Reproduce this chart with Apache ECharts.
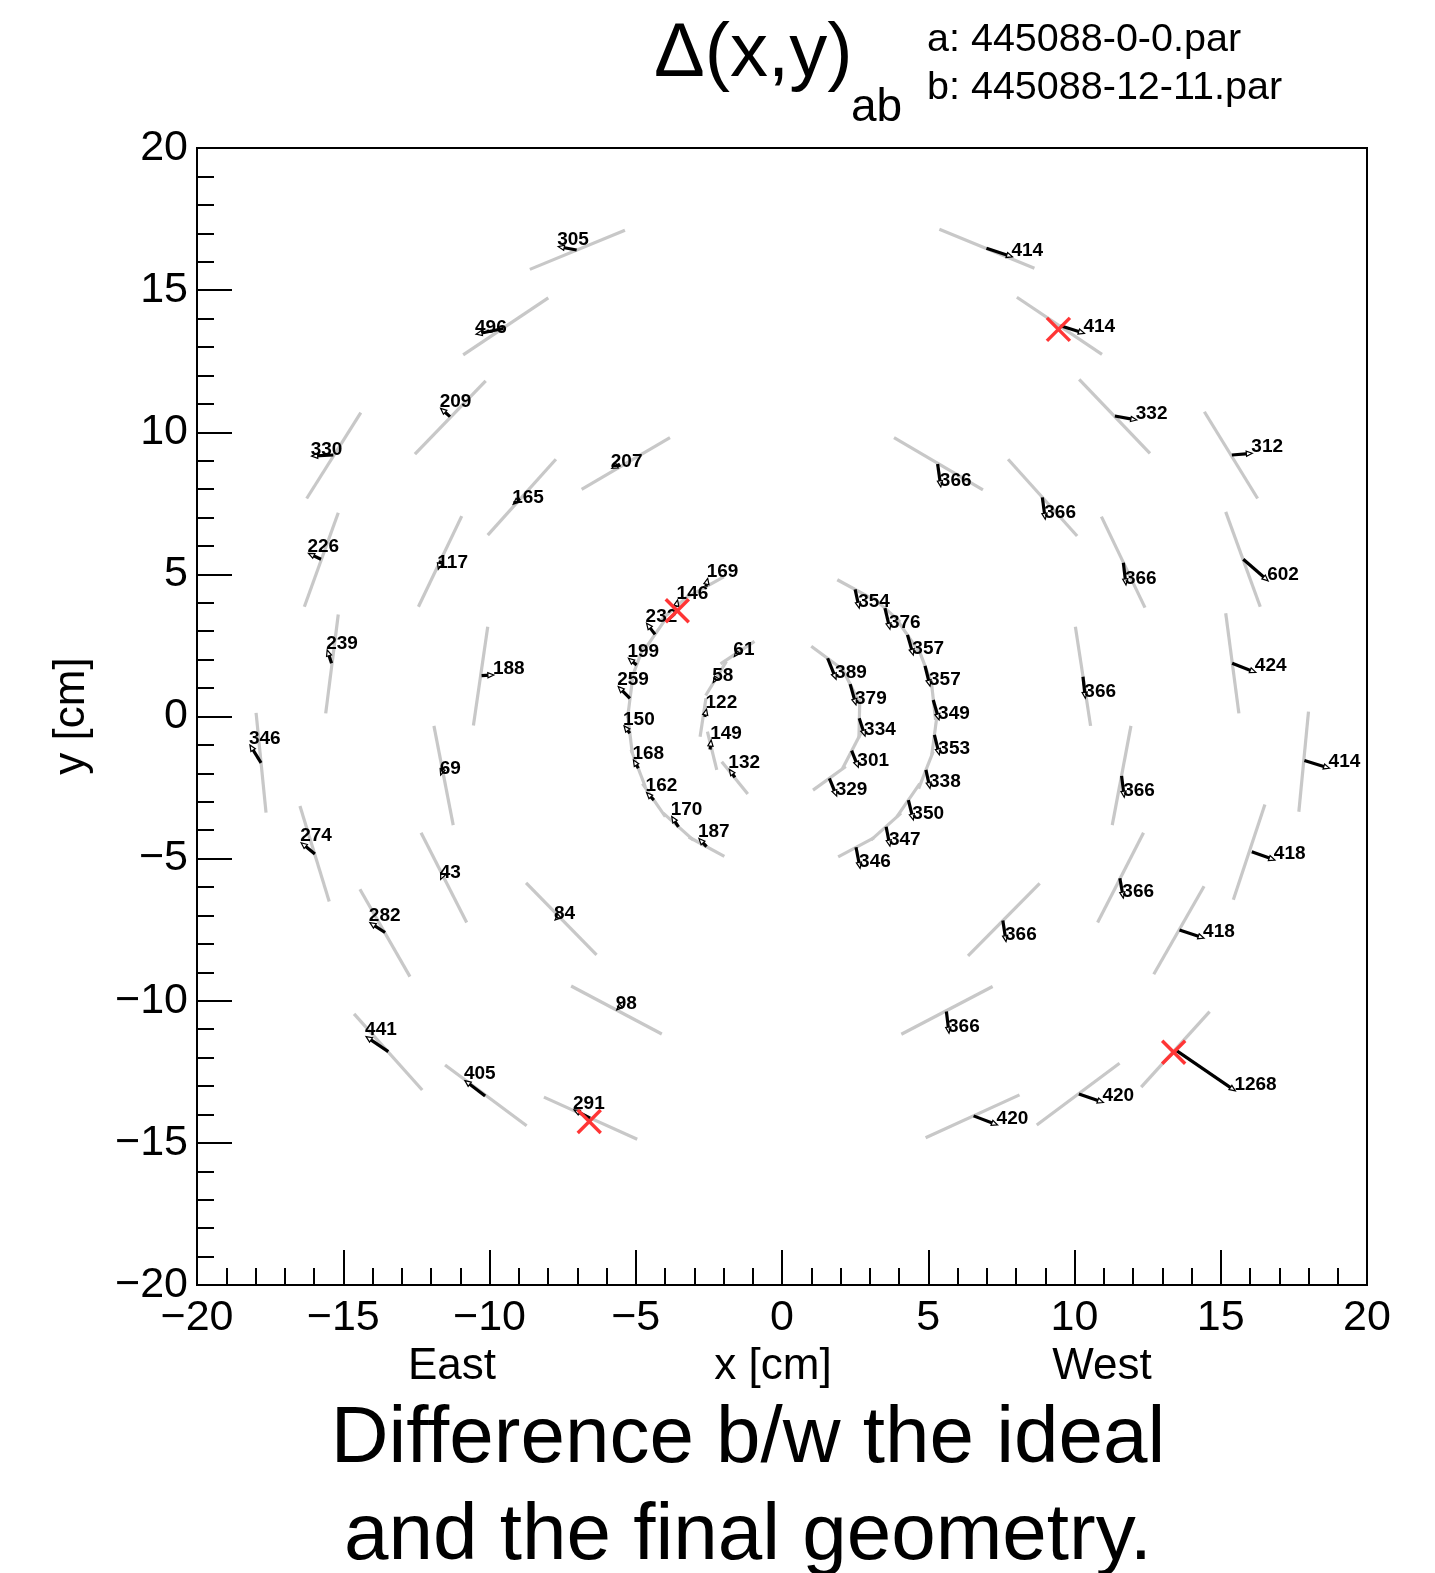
<!DOCTYPE html>
<html>
<head>
<meta charset="utf-8">
<script src="https://cdn.jsdelivr.net/npm/echarts@6/dist/echarts.min.js"></script>
<style>
  html, body { margin: 0; padding: 0; background: #ffffff; }
  #chart { width: 1435px; height: 1573px; }
</style>
</head>
<body>
<div id="chart"></div>
<script>
// Chamber segments in the x-y plane, [x1, y1, x2, y2] in cm
const segments = [
  [-8.62, 15.73, -5.37, 17.11], [-10.90, 12.72, -7.99, 14.73], [-12.55, 9.23, -10.13, 11.81],
  [-16.25, 7.67, -14.40, 10.69], [-10.06, 6.38, -7.73, 9.05], [-6.85, 7.99, -3.83, 9.81],
  [-15.17, 7.17, -16.33, 3.86], [-10.95, 7.05, -12.43, 3.86], [-15.17, 3.59, -15.60, 0.11],
  [-10.06, 3.16, -10.55, -0.32], [-17.98, 0.13, -17.64, -3.38], [-11.90, -0.33, -11.24, -3.82],
  [-16.48, -3.15, -15.48, -6.51], [-12.34, -4.09, -10.78, -7.25], [-14.43, -6.08, -12.72, -9.15],
  [-8.75, -5.85, -6.34, -8.39], [-7.21, -9.48, -4.11, -11.17], [-14.63, -10.46, -12.30, -13.14],
  [-11.52, -12.26, -8.73, -14.40], [-8.14, -13.39, -4.95, -14.87],
  [5.38, 17.14, 8.63, 15.77], [8.03, 14.75, 10.94, 12.74], [10.16, 11.86, 12.58, 9.26],
  [14.44, 10.72, 16.26, 7.67], [3.83, 9.81, 6.87, 7.97], [7.73, 9.05, 10.09, 6.35],
  [10.92, 7.03, 12.41, 3.83], [15.17, 7.20, 16.35, 3.86], [15.17, 3.63, 15.62, 0.11],
  [10.03, 3.16, 10.55, -0.33], [18.00, 0.17, 17.67, -3.35], [11.93, -0.33, 11.29, -3.82],
  [16.51, -3.10, 15.43, -6.45], [12.36, -4.09, 10.79, -7.25], [14.43, -5.97, 12.71, -9.07],
  [8.81, -5.87, 6.36, -8.42], [7.20, -9.50, 4.08, -11.18], [14.62, -10.38, 12.28, -13.04],
  [11.54, -12.20, 8.71, -14.37], [8.12, -13.31, 4.91, -14.82],
  [-3.21, 4.22, -1.99, 4.91], [-4.14, 3.38, -3.11, 4.34], [-4.73, 2.31, -3.95, 3.47],
  [-5.21, 1.15, -4.73, 2.47], [-5.28, -0.06, -5.11, 1.33], [-5.12, -1.29, -5.28, 0.10],
  [-4.67, -2.48, -5.16, -1.17], [-3.99, -3.52, -4.77, -2.36], [-3.03, -4.35, -4.06, -3.40],
  [-1.97, -4.92, -3.19, -4.24],
  [-0.94, 2.64, -2.10, 1.85], [-1.90, 1.94, -2.61, 0.74], [-2.80, -0.71, -2.60, 0.64],
  [-2.55, -0.53, -2.23, -1.88], [-2.06, -1.59, -1.17, -2.73],
  [1.00, 2.47, 2.12, 1.62], [2.02, 1.77, 2.63, 0.52], [2.66, 0.64, 2.63, -0.76],
  [2.70, -0.58, 2.07, -1.83], [2.18, -1.76, 1.06, -2.59],
  [1.89, 4.81, 3.11, 4.13], [3.01, 4.28, 4.04, 3.33], [3.90, 3.45, 4.67, 2.29],
  [4.65, 2.43, 5.13, 1.12], [5.10, 1.28, 5.25, -0.12], [5.30, 0.04, 5.12, -1.35],
  [5.17, -1.23, 4.67, -2.54], [4.71, -2.36, 3.93, -3.52], [4.07, -3.40, 3.04, -4.35],
  [3.14, -4.27, 1.92, -4.94]
];

// Displacement arrows (magnified): tail [x, y] and head [x, y] in cm
const arrowTails = [
  [-7.02, 16.41], [-9.53, 13.65], [-11.35, 10.55], [-15.34, 9.20], [-8.96, 7.67], [-5.54, 8.88],
  [-15.76, 5.53], [-11.67, 5.48], [-15.40, 1.87], [-10.27, 1.44], [-17.81, -1.63], [-11.58, -1.79],
  [-15.97, -4.84], [-11.58, -5.52], [-13.57, -7.60], [-7.61, -7.02], [-5.54, -10.21], [-13.46, -11.79],
  [-10.15, -13.35], [-6.56, -14.13],
  [6.99, 16.47], [9.52, 13.75], [11.38, 10.57], [15.38, 9.20], [5.32, 8.88], [8.90, 7.71],
  [11.67, 5.41], [15.77, 5.53], [15.39, 1.87], [10.29, 1.40], [17.86, -1.55], [11.61, -2.09],
  [16.06, -4.76], [11.55, -5.69], [13.59, -7.51], [7.55, -7.18], [5.62, -10.38], [13.45, -11.73],
  [10.15, -13.28], [6.55, -14.05],
  [-2.60, 4.57], [-3.62, 3.86], [-4.34, 2.89], [-4.97, 1.81], [-5.20, 0.64], [-5.20, -0.59],
  [-4.91, -1.82], [-4.38, -2.94], [-3.54, -3.88], [-2.58, -4.58],
  [-1.52, 2.25], [-2.26, 1.34], [-2.64, -0.01], [-2.46, -1.16], [-1.61, -2.14],
  [1.56, 2.05], [2.33, 1.14], [2.64, -0.06], [2.38, -1.20], [1.62, -2.18],
  [2.50, 4.47], [3.52, 3.81], [4.29, 2.87], [4.89, 1.78], [5.17, 0.58], [5.21, -0.65],
  [4.92, -1.88], [4.32, -2.94], [3.56, -3.88], [2.53, -4.60]
];
const arrowHeads = [
  [-7.65, 16.53], [-10.46, 13.45], [-11.67, 10.84], [-16.08, 9.16], [-9.19, 7.47], [-5.82, 8.73],
  [-16.19, 5.74], [-11.75, 5.18], [-15.55, 2.34], [-9.85, 1.46], [-18.19, -1.00], [-11.67, -2.06],
  [-16.44, -4.44], [-11.67, -5.73], [-14.09, -7.25], [-7.76, -7.16], [-5.65, -10.32], [-14.22, -11.26],
  [-10.84, -12.81], [-7.11, -13.84],
  [7.88, 16.17], [10.34, 13.48], [12.13, 10.43], [16.08, 9.26], [5.43, 8.08], [9.00, 6.94],
  [11.76, 4.63], [16.62, 4.77], [16.20, 1.55], [10.37, 0.64], [18.72, -1.82], [11.70, -2.84],
  [16.85, -5.05], [11.67, -6.39], [14.43, -7.80], [7.66, -7.92], [5.71, -11.14], [15.50, -13.17],
  [10.99, -13.58], [7.37, -14.37],
  [-2.54, 4.86], [-3.57, 4.10], [-4.63, 3.28], [-5.25, 2.05], [-5.60, 1.05], [-5.40, -0.33],
  [-5.08, -1.53], [-4.63, -2.68], [-3.77, -3.52], [-2.84, -4.29],
  [-1.63, 2.11], [-2.35, 1.20], [-2.58, 0.26], [-2.42, -0.83], [-1.80, -1.86],
  [1.85, 1.31], [2.53, 0.41], [2.84, -0.69], [2.61, -1.79], [1.87, -2.80],
  [2.64, 3.81], [3.69, 3.07], [4.49, 2.16], [5.06, 1.07], [5.37, -0.12], [5.38, -1.35],
  [5.06, -2.53], [4.49, -3.64], [3.69, -4.56], [2.67, -5.34]
];
// Displacement magnitude written next to each arrow
const arrowValues = [
  305, 496, 209, 330, 165, 207, 226, 117, 239, 188, 346, 69, 274, 43, 282, 84, 98, 441, 405, 291,
  414, 414, 332, 312, 366, 366, 366, 602, 424, 366, 414, 366, 418, 366, 418, 366, 366, 1268, 420, 420,
  169, 146, 232, 199, 259, 150, 168, 162, 170, 187,
  61, 58, 122, 149, 132,
  389, 379, 334, 301, 329,
  354, 376, 357, 357, 349, 353, 338, 350, 347, 346
];
// Flagged chambers
const flagged = [[9.45, 13.62], [13.39, -11.81], [-6.59, -14.25], [-3.58, 3.72]];

// Axis tick values
const xTicks = [-20, -15, -10, -5, 0, 5, 10, 15, 20];
const yTicks = [-20, -15, -10, -5, 0, 5, 10, 15, 20];

const FONT = '"Liberation Sans", Arial, Helvetica, sans-serif';
const fmtTick = v => (v < 0 ? '\u2212' + (-v) : String(v));

const arrowData = arrowTails.map((t, i) => [t[0], t[1], arrowHeads[i][0], arrowHeads[i][1], arrowValues[i]]);

const chart = echarts.init(document.getElementById('chart'), null, { renderer: 'canvas' });

const axisCommon = {
  type: 'value',
  min: xTicks[0],
  max: xTicks[xTicks.length - 1],
  interval: xTicks[1] - xTicks[0],
  axisLine: { show: true, onZero: false, lineStyle: { color: '#000', width: 2 } },
  axisTick: { show: true, inside: true, length: 35, lineStyle: { color: '#000', width: 2 } },
  minorTick: { show: true, splitNumber: 5, length: 17, lineStyle: { color: '#000', width: 2 } },
  splitLine: { show: false },
  minorSplitLine: { show: false }
};

chart.setOption({
  animation: false,
  backgroundColor: '#ffffff',
  grid: {
    left: 197, right: 68, top: 148, bottom: 288,
    containLabel: false, outerBoundsMode: 'none',
    show: true, borderColor: '#000', borderWidth: 2, backgroundColor: 'transparent'
  },
  xAxis: Object.assign({}, axisCommon, {
    position: 'bottom',
    axisLabel: {
      show: true, margin: 12, fontSize: 43, color: '#000', fontFamily: FONT,
      showMinLabel: true, showMaxLabel: true, hideOverlap: false, formatter: fmtTick
    }
  }),
  yAxis: Object.assign({}, axisCommon, {
    min: yTicks[0], max: yTicks[yTicks.length - 1], interval: yTicks[1] - yTicks[0],
    position: 'left',
    axisLabel: {
      show: true, margin: 9, fontSize: 43, color: '#000', fontFamily: FONT,
      padding: [9, 0, 0, 0],
      showMinLabel: true, showMaxLabel: true, hideOverlap: false, formatter: fmtTick
    }
  }),
  series: [
    {
      // chamber segments
      type: 'custom',
      data: segments,
      encode: { x: [0, 2], y: [1, 3] },
      silent: true,
      z: 2,
      renderItem: function (params, api) {
        const p1 = api.coord([api.value(0), api.value(1)]);
        const p2 = api.coord([api.value(2), api.value(3)]);
        return {
          type: 'line',
          shape: { x1: p1[0], y1: p1[1], x2: p2[0], y2: p2[1] },
          style: { stroke: '#c8c8c8', lineWidth: 3.2, lineCap: 'butt' }
        };
      }
    },
    {
      // displacement arrows with their values
      type: 'custom',
      data: arrowData,
      encode: { x: [0, 2], y: [1, 3] },
      silent: true,
      z: 4,
      renderItem: function (params, api) {
        const t = api.coord([api.value(0), api.value(1)]);
        const h = api.coord([api.value(2), api.value(3)]);
        const dx = h[0] - t[0], dy = h[1] - t[1];
        const len = Math.sqrt(dx * dx + dy * dy) || 1;
        const ux = dx / len, uy = dy / len;
        const L = 6, W = 2.6;
        const bx = h[0] - ux * L, by = h[1] - uy * L;
        const sx = h[0] - ux * Math.min(L * 0.6, len), sy = h[1] - uy * Math.min(L * 0.6, len);
        return {
          type: 'group',
          children: [
            {
              type: 'line',
              shape: { x1: t[0], y1: t[1], x2: sx, y2: sy },
              style: { stroke: '#000', lineWidth: 3.2, lineCap: 'butt' }
            },
            {
              type: 'polygon',
              shape: { points: [[h[0], h[1]], [bx - uy * W, by + ux * W], [bx + uy * W, by - ux * W]] },
              style: { stroke: '#000', fill: '#fff', lineWidth: 1.2 }
            },
            {
              type: 'text',
              x: h[0] - 1, y: h[1] + 3,
              style: {
                text: String(api.value(4)),
                font: 'bold 19px ' + FONT,
                fill: '#000',
                align: 'left',
                verticalAlign: 'bottom'
              }
            }
          ]
        };
      }
    },
    {
      // flagged chambers
      type: 'custom',
      data: flagged,
      encode: { x: 0, y: 1 },
      silent: true,
      z: 5,
      renderItem: function (params, api) {
        const c = api.coord([api.value(0), api.value(1)]);
        const a = 11.5;
        const st = { stroke: '#ff3535', lineWidth: 3.4 };
        return {
          type: 'group',
          children: [
            { type: 'line', shape: { x1: c[0] - a, y1: c[1] - a, x2: c[0] + a, y2: c[1] + a }, style: st },
            { type: 'line', shape: { x1: c[0] - a, y1: c[1] + a, x2: c[0] + a, y2: c[1] - a }, style: st }
          ]
        };
      }
    }
  ],
  graphic: [
    { type: 'text', x: 654, y: 55, style: { text: '\u0394(x,y)', font: '76px ' + FONT, fill: '#000', align: 'left', verticalAlign: 'middle' } },
    { type: 'text', x: 851, y: 108, style: { text: 'ab', font: '46px ' + FONT, fill: '#000', align: 'left', verticalAlign: 'middle' } },
    { type: 'text', x: 927, y: 40, style: { text: 'a: 445088-0-0.par', font: '39.5px ' + FONT, fill: '#000', align: 'left', verticalAlign: 'middle' } },
    { type: 'text', x: 927, y: 88, style: { text: 'b: 445088-12-11.par', font: '39.5px ' + FONT, fill: '#000', align: 'left', verticalAlign: 'middle' } },
    { type: 'text', x: 452, y: 1367, style: { text: 'East', font: '44px ' + FONT, fill: '#000', align: 'center', verticalAlign: 'middle' } },
    { type: 'text', x: 773, y: 1367, style: { text: 'x [cm]', font: '44px ' + FONT, fill: '#000', align: 'center', verticalAlign: 'middle' } },
    { type: 'text', x: 1102, y: 1367, style: { text: 'West', font: '44px ' + FONT, fill: '#000', align: 'center', verticalAlign: 'middle' } },
    { type: 'text', x: 72, y: 716, rotation: Math.PI / 2, style: { text: 'y [cm]', font: '44px ' + FONT, fill: '#000', align: 'center', verticalAlign: 'middle' } },
    { type: 'text', x: 748, y: 1440, style: { text: 'Difference b/w the ideal', font: '80px ' + FONT, fill: '#000', align: 'center', verticalAlign: 'middle' } },
    { type: 'text', x: 748, y: 1537, style: { text: 'and the final geometry.', font: '80px ' + FONT, fill: '#000', align: 'center', verticalAlign: 'middle' } }
  ]
});
</script>
</body>
</html>
